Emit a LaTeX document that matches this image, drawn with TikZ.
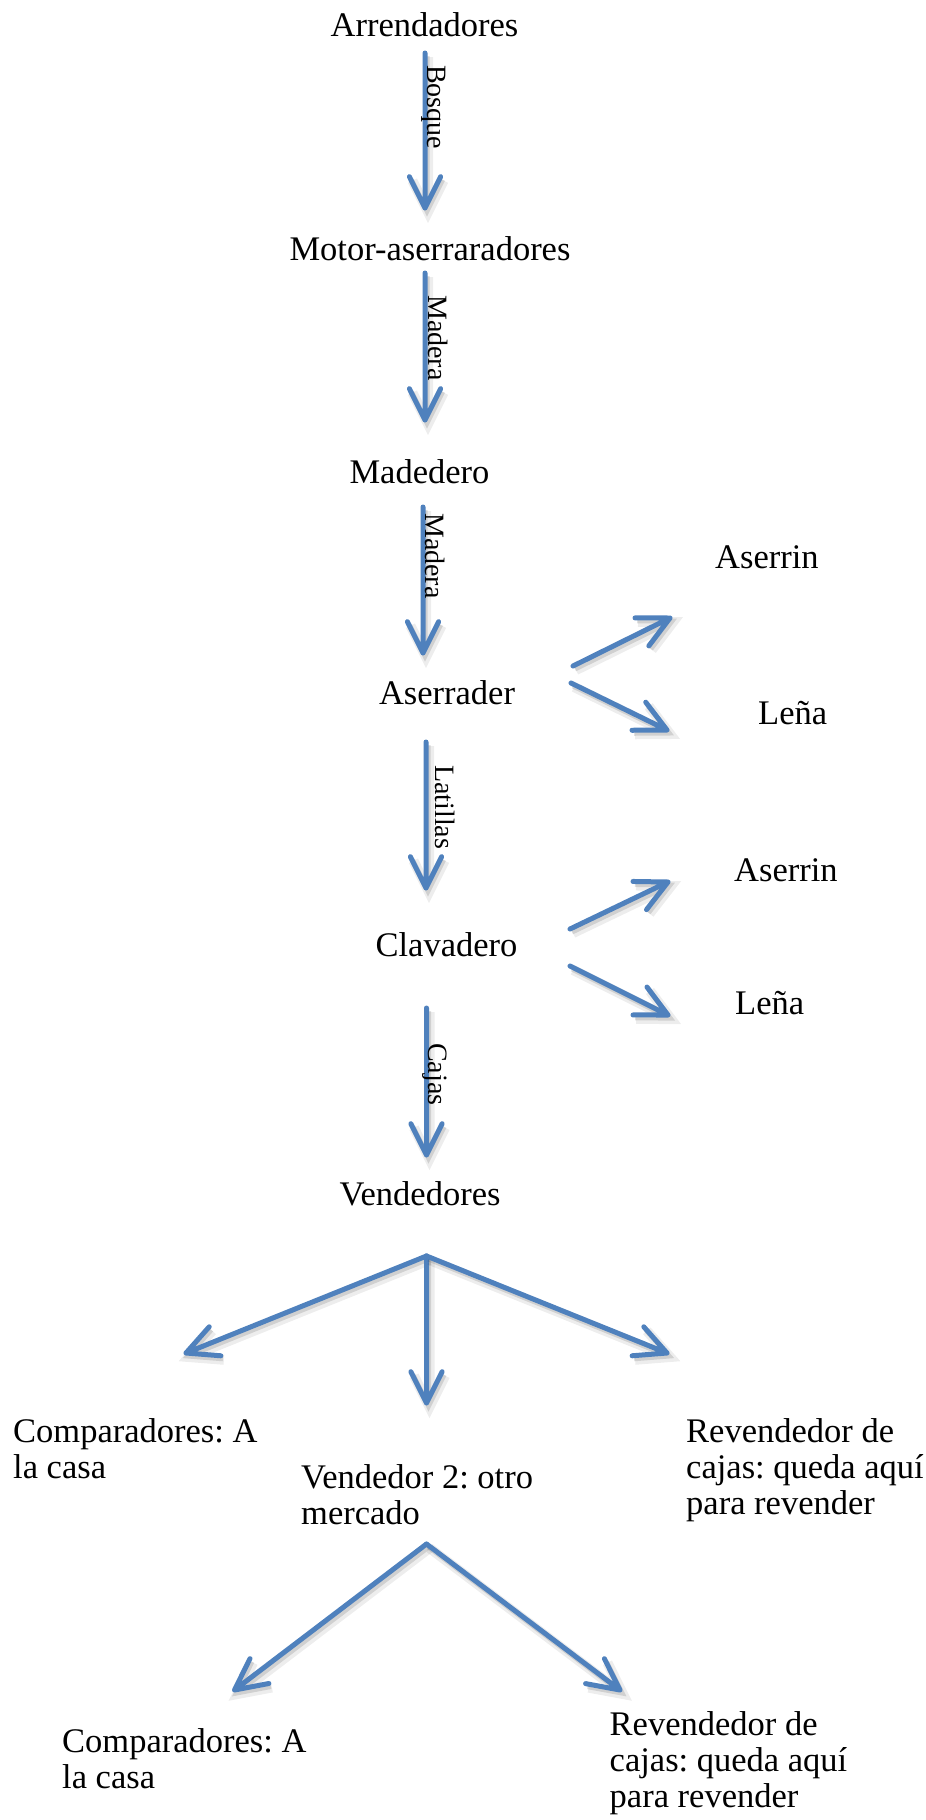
\documentclass[tikz,border=0pt]{standalone}
\usepackage{fontspec}
\setmainfont{Liberation Serif}
\usetikzlibrary{calc}
\definecolor{flowblue}{RGB}{79,129,189}
\frenchspacing

% open V-headed flow arrow from #1 to #2
\newcommand\flowarrow[2]{%
  \draw[flow] (#1) -- (#2)
    ($(#2)!35pt!26.5:(#1)$) -- (#2) -- ($(#2)!35pt!-26.5:(#1)$);}
% left-aligned block whose reference point is the first baseline
\newcommand\leftblock[1]{\parbox[t]{330pt}{\raggedright #1}}

\begin{document}
\begin{tikzpicture}[x=1pt,y=-1pt,
  lbl/.style={inner sep=0pt, anchor=base, font=\fontsize{34.5}{36.3}\selectfont},
  lblw/.style={lbl, anchor=base west},
  tag/.style={inner sep=0pt, rotate=-90, anchor=base west, font=\fontsize{28}{30}\selectfont},
  flow/.style={draw=flowblue, line width=5pt, line cap=round, line join=round,
    preaction={draw=black, opacity=0.07, line width=10pt,
      transform canvas={shift={(3pt,-4pt)}}},
    preaction={draw=black, opacity=0.12, line width=5pt,
      transform canvas={shift={(2pt,-3pt)}}}}]

\fill[white] (0,0) rectangle (926,1820);
\useasboundingbox (0,0) rectangle (926,1820);

% stages
\node[lbl]  (arr)        at (424.5,36)  {Arrendadores};
\node[lbl]  (motor)      at (430,260)   {Motor-aserraradores};
\node[lbl]  (madedero)   at (419.5,483) {Madedero};
\node[lbl]  (aserrader)  at (447,704)   {Aserrader};
\node[lblw] (aserrinA)   at (715,568)   {Aserrin};
\node[lblw] (lenaA)      at (758,724)   {Leña};
\node[lbl]  (clavadero)  at (446.5,956) {Clavadero};
\node[lblw] (aserrinB)   at (734,881)   {Aserrin};
\node[lblw] (lenaB)      at (735,1014)  {Leña};
\node[lbl]  (vendedores) at (420,1205)  {Vendedores};
\node[lblw] (compA) at (13,1442)  {\leftblock{Comparadores: A\\la casa}};
\node[lblw] (vend2) at (301,1488) {\leftblock{Vendedor 2: otro\\mercado}};
\node[lblw] (revA)  at (686,1442) {\leftblock{Revendedor de\\cajas: queda aquí\\para revender}};
\node[lblw] (compB) at (62,1752)  {\leftblock{Comparadores: A\\la casa}};
\node[lblw] (revB)  at (609.5,1735) {\leftblock{Revendedor de\\cajas: queda aquí\\para revender}};

% arrow end points
\coordinate (s1) at (425,53);    \coordinate (e1) at (425,208);
\coordinate (s2) at (425,273);   \coordinate (e2) at (425,420);
\coordinate (s3) at (423,507);   \coordinate (e3) at (423,653);
\coordinate (s4) at (426,742);   \coordinate (e4) at (426,888);
\coordinate (s5) at (426.5,1008); \coordinate (e5) at (426.5,1155);
\coordinate (au) at (573,666);   \coordinate (aue) at (670,618);
\coordinate (ad) at (571,683);   \coordinate (ade) at (667,730);
\coordinate (cu) at (570,929);   \coordinate (cue) at (668,882);
\coordinate (cd) at (570,966);   \coordinate (cde) at (668,1015);
\coordinate (f1) at (426.5,1256);
\coordinate (f1l) at (186,1353); \coordinate (f1m) at (426.5,1403); \coordinate (f1r) at (667,1353);
\coordinate (f2) at (426.5,1544);
\coordinate (f2l) at (234.5,1690); \coordinate (f2r) at (620,1690);

% main chain
\flowarrow{s1}{e1}
\flowarrow{s2}{e2}
\flowarrow{s3}{e3}
\flowarrow{s4}{e4}
\flowarrow{s5}{e5}
% by-products
\flowarrow{au}{aue}
\flowarrow{ad}{ade}
\flowarrow{cu}{cue}
\flowarrow{cd}{cde}
% sales branches
\flowarrow{f1}{f1l}
\flowarrow{f1}{f1m}
\flowarrow{f1}{f1r}
\flowarrow{f2}{f2l}
\flowarrow{f2}{f2r}

% flow labels
\node[tag] (t1) at (427,65)   {Bosque};
\node[tag] (t2) at (428,295)  {Madera};
\node[tag] (t3) at (425,513)  {Madera};
\node[tag] (t4) at (435,765)  {Latillas};
\node[tag] (t5) at (428,1043) {Cajas};
\end{tikzpicture}
\end{document}
